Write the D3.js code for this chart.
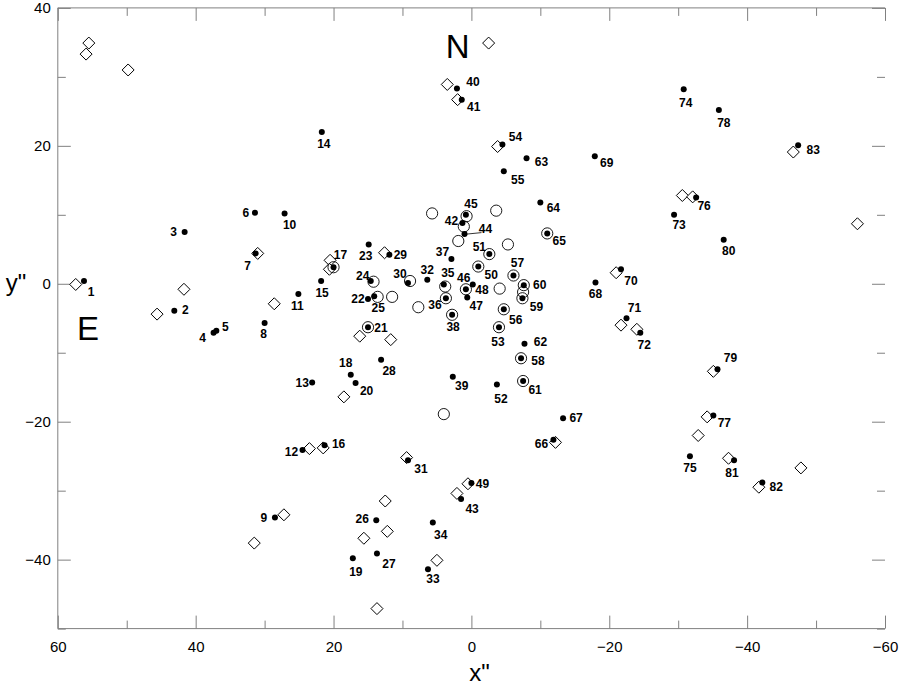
<!DOCTYPE html>
<html lang="en">
<head>
<meta charset="UTF-8">
<title>x" / y" offsets</title>
<script src="https://cdn.jsdelivr.net/npm/d3@7/dist/d3.min.js"></script>
<style>
  body { margin: 0; background: #fff; }
  svg { display: block; font-family: Arial, "Liberation Sans", sans-serif; }
  .frame { stroke: #808080; stroke-width: 1; fill: none; }
  .axis path { stroke: #808080; }
  .axis line { stroke: #808080; }
  .axis text { font-size: 15px; fill: #000; font-family: Arial, "Liberation Sans", sans-serif; }
  .axis-title { font-size: 24px; }
  .compass { font-size: 33px; }
  .pt-label { font-size: 12px; font-weight: bold; }
</style>
</head>
<body>
<script>
// numbered stars 1..83 (filled dots)
const dotX = [56.2, 43.1, 41.6, 37.4, 37.0, 31.4, 31.3, 30.0, 28.5, 27.1,
              25.1, 24.5, 23.1, 21.7, 21.8, 21.3, 20.0, 17.5, 17.2, 16.8,
              15.0, 15.0, 14.9, 14.6, 14.1, 13.8, 13.7, 13.1, 11.9, 9.2,
              9.2, 6.4, 6.3, 5.6, 4.0, 3.7, 2.9, 2.8, 2.7, 2.1,
              1.4, 1.3, 1.5, 1.0, 0.8, -0.2, 0.6, 0.8, 0.0, -1.0,
              -2.6, -3.7, -4.0, -4.5, -4.7, -4.7, -6.1, -7.2, -7.4, -7.6,
              -7.5, -7.7, -8.0, -10.0, -11.0, -11.9, -13.3, -18.0, -17.9, -21.7,
              -22.5, -24.5, -29.4, -30.8, -31.7, -32.6, -35.1, -35.9, -35.7, -36.6,
              -38.1, -42.2, -47.4];
const dotY = [0.4, -3.9, 7.5, -7.1, -6.8, 10.3, 4.4, -5.7, -33.9, 10.2,
              -1.5, -24.1, -14.3, 22.0, 0.4, -23.4, 2.4, -13.2, -39.8, -14.4,
              -6.3, -2.2, 5.7, 0.4, -1.8, -34.3, -39.1, -11.0, 4.2, 0.1,
              -25.6, 0.6, -41.4, -34.6, -0.1, -2.1, 3.6, -4.5, -13.5, 28.3,
              26.7, 8.8, -31.2, 7.2, 10.0, -0.1, -2.0, -0.8, -28.9, 2.5,
              4.3, -14.6, -6.3, 20.2, 16.3, -3.7, 1.2, -10.8, -2.1, -0.2,
              -14.1, -8.7, 18.2, 11.8, 7.3, -22.6, -19.5, 0.2, 18.5, 2.1,
              -5.0, -7.1, 10.0, 28.2, -25.0, 12.5, -19.1, 25.2, -12.4, 6.4,
              -25.6, -28.8, 20.1];
const dotIds = dotX.map((d, i) => i + 1);

// open circles
const ringX = [20.0, 15.0, 14.2, 13.6, 8.9, 3.8, 3.7, 2.8, 1.1, 0.7,
               0.8, -1.0, -2.6, -4.0, -4.7, -6.1, -7.2, -7.4, -7.6, -7.5,
               -11.0, 5.7, -3.6, 1.9, -5.3, -4.1, 11.5, 7.7, 4.0, -7.5];
const ringY = [2.4, -6.3, 0.3, -1.9, 0.4, -0.4, -2.1, -4.5, 8.3, 9.8,
               -0.8, 2.5, 4.3, -6.3, -3.7, 1.2, -10.8, -2.1, -0.2, -14.1,
               7.3, 10.2, 10.6, 6.2, 5.7, -0.7, -1.9, -3.4, -18.9, -1.2];

// open diamonds
const diamondX = [55.5, 55.9, 49.8, -2.5, 57.4, 41.7, 45.6, 31.0, 28.6, 20.5,
                  20.6, 12.6, 16.2, 11.7, 18.5, 23.5, 21.5, 27.2, 31.5, 9.4,
                  12.5, 12.2, 15.6, 5.0, 13.7, 2.1, 0.5, 3.5, 2.0, -3.8,
                  -12.2, -21.0, -21.7, -24.0, -30.6, -32.1, -34.2, -35.1, -32.9, -37.3,
                  -41.7, -47.8, -46.7, -56.0];
const diamondY = [34.9, 33.3, 31.0, 34.9, -0.1, -0.8, -4.4, 4.4, -2.9, 3.4,
                  2.1, 4.5, -7.6, -8.1, -16.4, -23.9, -23.8, -33.5, -37.6, -25.2,
                  -31.5, -35.9, -36.9, -40.1, -47.1, -30.4, -29.0, 28.9, 26.7, 19.9,
                  -23.0, 1.6, -6.0, -6.6, 12.8, 12.6, -19.3, -12.7, -22.0, -25.3,
                  -29.5, -26.7, 19.1, 8.7];

const xTicks = [60, 40, 20, 0, -20, -40, -60];
const xMinor = [50, 30, 10, -10, -30, -50];
const yTicks = [40, 20, 0, -20, -40];
const yMinor = [30, 10, -10, -30, -50];

// label placement (pixel shift of each number from its dot)
const labelShift = [
  [7, 11], [11, -1], [-11, 0], [-11, 5], [9, -4], [-9, 0], [-8, 12], [-1, 11], [-11, 0], [5, 11],
  [-1, 12], [-11, 2], [-10, 0], [2, 12], [1, 12], [14, -1], [7, -13], [-5, -12], [3, 13], [11, 8],
  [13, 0], [-10, 0], [-3, 11], [-8, -5], [4, 11], [-14, -2], [12, 10], [8, 11], [11, 0], [-8, -9],
  [13, 8], [0, -10], [5, 9], [8, 12], [4, -12], [-11, 6], [-9, -7], [1, 12], [9, 9], [16, -7],
  [12, 7], [-11, -2], [11, 10], [21, -5], [5, -11], [-9, -7], [9, 8], [16, 0], [11, 1], [13, 8],
  [-10, -7], [4, 14], [-1, 14], [13, -8], [14, 8], [12, 10], [4, -13], [17, 2], [14, 8], [16, 0],
  [12, 9], [16, -2], [15, 3], [13, 5], [12, 7], [-12, 4], [13, -1], [0, 11], [12, 7], [10, 11],
  [8, -11], [4, 12], [5, 10], [2, 13], [0, 11], [8, 8], [11, 7], [5, 13], [13, -12], [5, 11],
  [-2, 12], [14, 4], [15, 5]
];

const W = 899, H = 686;
const svg = d3.select("body").append("svg")
  .attr("width", W)
  .attr("height", H);

const x = d3.scaleLinear().domain([60, -60]).range([57.8, 885]);
const y = d3.scaleLinear().domain([40, -50]).range([7.9, 628.6]);
const [x0, x1] = x.range();
const [y0, y1] = y.range();

// frame: left, top, bottom (no right line)
svg.append("path")
  .attr("class", "frame")
  .attr("d", `M${x1},${y0}H${x0}V${y1}H${x1}`);

function addAxis(axisFn, tr, values, size, labels, pad) {
  const a = axisFn.tickValues(values).tickSizeInner(-size).tickSizeOuter(0)
    .tickPadding(pad || 0);
  if (!labels) a.tickFormat("");
  const g = svg.append("g").attr("class", "axis").attr("transform", tr).call(a);
  g.select(".domain").remove();
  g.selectAll("text").attr("font-size", null).attr("font-family", null);
  return g;
}

addAxis(d3.axisBottom(x), `translate(0,${y1})`, xTicks, 13, true, 13);
addAxis(d3.axisBottom(x), `translate(0,${y1})`, xMinor, 8, false);
addAxis(d3.axisTop(x), `translate(0,${y0})`, xTicks, 13, false);
addAxis(d3.axisTop(x), `translate(0,${y0})`, xMinor, 8, false);
addAxis(d3.axisLeft(y), `translate(${x0},0)`, yTicks, 13, true, 7);
addAxis(d3.axisLeft(y), `translate(${x0},0)`, yMinor, 8, false);
addAxis(d3.axisRight(y), `translate(${x1},0)`, yTicks, 13, false);
addAxis(d3.axisRight(y), `translate(${x1},0)`, yMinor, 8, false);

// axis titles
svg.append("text").attr("class", "axis-title")
  .attr("x", (x0 + x1) / 2 + 8).attr("y", 681)
  .attr("text-anchor", "middle")
  .text('x"');
svg.append("text").attr("class", "axis-title")
  .attr("x", 16).attr("y", 291)
  .attr("text-anchor", "middle")
  .text('y"');

// compass letters
svg.append("text").attr("class", "compass")
  .attr("x", x(2.0)).attr("y", y(32.7))
  .attr("text-anchor", "middle").text("N");
svg.append("text").attr("class", "compass")
  .attr("x", x(55.6)).attr("y", y(-8.1))
  .attr("text-anchor", "middle").text("E");

const diamonds = diamondX.map((d, i) => ({ x: d, y: diamondY[i] }));
const rings = ringX.map((d, i) => ({ x: d, y: ringY[i] }));
const dots = dotIds.map((id, i) => ({ id, x: dotX[i], y: dotY[i], shift: labelShift[i] }));

svg.append("g").attr("id", "diamonds")
  .selectAll("path")
  .data(diamonds)
  .enter().append("path")
  .attr("d", d => {
    const cx = x(d.x), cy = y(d.y), s = 6;
    return `M${cx},${cy - s}L${cx + s},${cy}L${cx},${cy + s}L${cx - s},${cy}Z`;
  })
  .attr("fill", "#fff")
  .attr("stroke", "#000")
  .attr("stroke-width", 1);

svg.append("g").attr("id", "rings")
  .selectAll("circle")
  .data(rings)
  .enter().append("circle")
  .attr("cx", d => x(d.x))
  .attr("cy", d => y(d.y))
  .attr("r", 5.6)
  .attr("fill", "none")
  .attr("stroke", "#000")
  .attr("stroke-width", 0.9);

svg.append("g").attr("id", "dots")
  .selectAll("circle")
  .data(dots)
  .enter().append("circle")
  .attr("cx", d => x(d.x))
  .attr("cy", d => y(d.y))
  .attr("r", 3)
  .attr("fill", "#000");

// leader line for star 44
const s44 = dots[43];
svg.append("line")
  .attr("x1", x(s44.x) + 2).attr("y1", y(s44.y))
  .attr("x2", x(s44.x) + 17).attr("y2", y(s44.y) - 1.5)
  .attr("stroke", "#000").attr("stroke-width", 0.8);

svg.append("g").attr("id", "labels")
  .selectAll("text")
  .data(dots)
  .enter().append("text")
  .attr("class", "pt-label")
  .attr("x", d => x(d.x) + d.shift[0])
  .attr("y", d => y(d.y) + d.shift[1])
  .attr("dy", "0.36em")
  .attr("text-anchor", "middle")
  .text(d => d.id);
</script>
</body>
</html>
